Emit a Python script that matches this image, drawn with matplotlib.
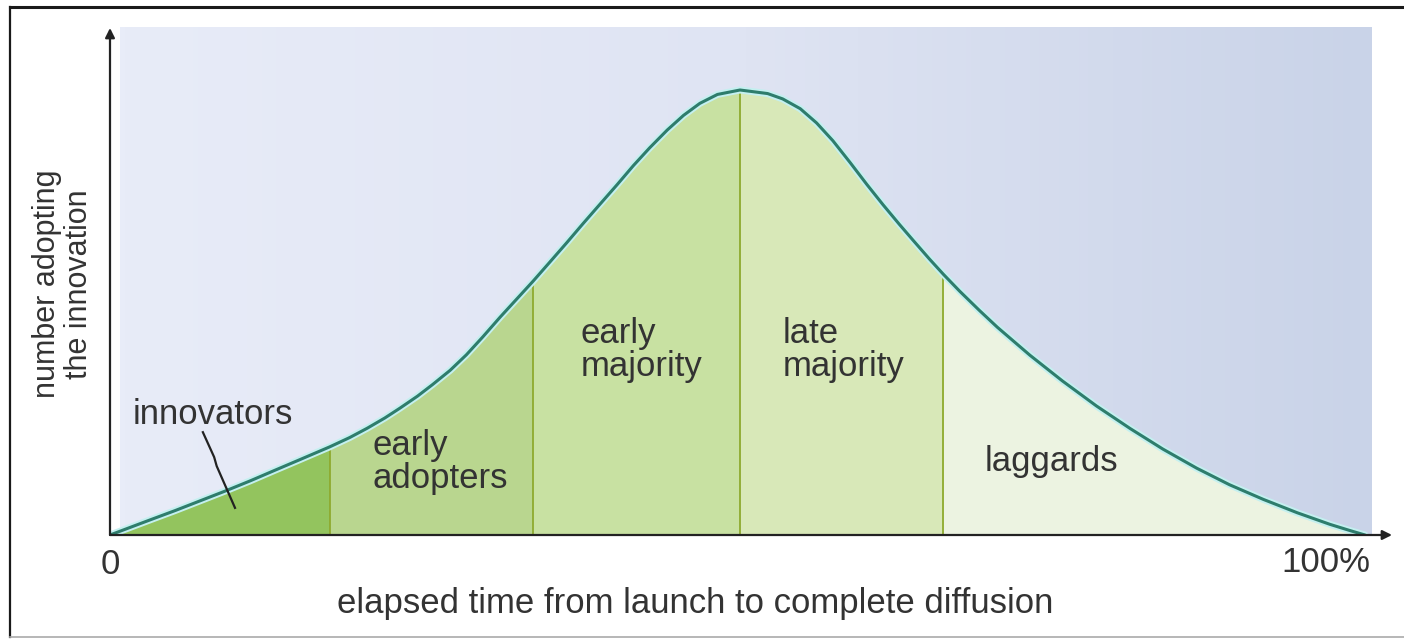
import numpy as np
import matplotlib.pyplot as plt
from matplotlib.colors import LinearSegmentedColormap
from matplotlib.lines import Line2D

# curve: x = % of elapsed time, y = % of peak
curve_x = [0.0, 1.6, 3.2, 5.2, 7.2, 9.2, 11.2, 13.1, 15.1, 17.5, 19.1, 20.5,
           21.9, 23.1, 24.5, 25.7, 27.1, 28.4, 29.7, 31.1, 32.4, 33.7, 35.1,
           36.4, 37.7, 39.0, 40.4, 41.7, 43.0, 44.4, 45.7, 47.0, 48.4, 50.2,
           52.4, 53.6, 55.0, 56.3, 57.6, 59.0, 60.3, 61.6, 62.9, 64.0, 65.3,
           66.4, 67.7, 69.3, 70.7, 73.3, 75.9, 78.6, 81.3, 83.9, 86.6, 89.2,
           91.9, 94.6, 97.2, 98.8, 100.0]
curve_y = [0.0, 1.7, 3.4, 5.5, 7.7, 9.9, 12.2, 14.5, 16.9, 19.8, 21.9, 24.0,
           26.3, 28.5, 31.2, 33.8, 37.0, 40.5, 44.5, 49.0, 53.0, 57.0, 61.5,
           65.7, 70.0, 74.2, 78.7, 83.0, 87.0, 91.0, 94.3, 97.0, 99.0, 100.0,
           99.2, 98.0, 95.8, 92.6, 88.6, 83.6, 78.8, 74.2, 69.8, 66.2, 62.0,
           58.6, 54.8, 50.4, 46.7, 40.4, 34.6, 29.0, 23.9, 19.3, 15.0, 11.3,
           8.0, 5.0, 2.4, 1.0, 0.0]

bounds = [0, 17.5, 33.7, 50.2, 66.4, 100]
groups = ["innovators", "early\nadopters", "early\nmajority", "late\nmajority", "laggards"]
group_colors = ["#93c45e", "#b9d68f", "#c8e1a2", "#d8e8b8", "#ecf3e1"]

plt.rcParams['font.family'] = ['Liberation Sans', 'DejaVu Sans']

W, H = 1404, 640
fig = plt.figure(figsize=(W/100, H/100), dpi=100)

# axes: origin at px (110,535); 1% in x = 12.55 px, 1% in y = 4.45 px
x0, y0, sx, sy = 110, 535, 12.55, 4.45
xr, yt = 1392, 27
ax = fig.add_axes([x0/W, (H-y0)/H, (xr-x0)/W, (y0-yt)/H])
ax.set_xlim(0, (xr-x0)/sx)
ax.set_ylim(0, (y0-yt)/sy)
ax.axis('off')

# background gradient
cmap = LinearSegmentedColormap.from_list('bg', ["#e8ecf8", "#dfe4f3", "#c9d3e8"])
grad = np.linspace(0, 1, 256).reshape(1, -1)
ax.imshow(grad, cmap=cmap, aspect='auto', extent=(0.8, (1372-x0)/sx, 0, (y0-yt)/sy),
          zorder=0)

cx = np.array(curve_x)
cy = np.array(curve_y)
for i in range(len(groups)):
    a, b = bounds[i], bounds[i+1]
    m = (cx >= a - 0.01) & (cx <= b + 0.01)
    ax.fill_between(cx[m], 0, cy[m], color=group_colors[i], lw=0, zorder=1)
for b in bounds[1:-1]:
    yb = np.interp(b, cx, cy)
    ax.plot([b, b], [0, yb], color="#8eaa2e", lw=1.3, zorder=2)

ax.plot(cx, cy, color="#c4f0f0", lw=5, zorder=3, solid_capstyle='round',
        solid_joinstyle='round')
ax.plot(cx, cy, color="#2e7d6c", lw=2.2, zorder=4, solid_capstyle='round',
        solid_joinstyle='round')

# axes arrows
ax.annotate('', xy=(0, (y0-28)/sy), xytext=(0, 0),
            arrowprops=dict(arrowstyle='-|>', color='#222222', lw=1.6,
                            mutation_scale=14, shrinkA=0, shrinkB=0), zorder=5)
ax.annotate('', xy=((xr-x0)/sx, 0), xytext=(0, 0),
            arrowprops=dict(arrowstyle='-|>', color='#222222', lw=1.6,
                            mutation_scale=14, shrinkA=0, shrinkB=0), zorder=5)

fs = 25
txt = dict(color='#333333', fontsize=fs, zorder=6, linespacing=1.0)
ax.text(1.8, 27, groups[0], ha='left', va='center', **txt)
ax.plot([7.4, 8.3, 8.5, 9.96], [23.1, 17.5, 15.5, 6.1],
        color='#222222', lw=1.6, zorder=6)
ax.text(20.9, 16.5, groups[1], ha='left', va='center', **txt)
ax.text(37.5, 41.5, groups[2], ha='left', va='center', **txt)
ax.text(53.6, 41.5, groups[3], ha='left', va='center', **txt)
ax.text(69.7, 16.5, groups[4], ha='left', va='center', **txt)

# axis texts in figure pixels
def fpx(x, y):
    return x / W, 1 - y / H

fig.text(*fpx(110, 564), "0", ha='center', va='center', color='#333333', fontsize=fs)
fig.text(*fpx(1370, 562), "100%", ha='right', va='center', color='#333333', fontsize=fs)
fig.text(*fpx(695, 604), "elapsed time from launch to complete diffusion",
         ha='center', va='center', color='#333333', fontsize=fs)
fig.text(*fpx(63, 284), "number adopting\nthe innovation", ha='center', va='center',
         rotation=90, color='#333333', fontsize=22, linespacing=1.05)

# outer frame
fig.add_artist(Line2D([10/W, 1], [1-7/H, 1-7/H], color='#1a1a1a', lw=2.2))
fig.add_artist(Line2D([10/W, 10/W], [1-7/H, 1-637/H], color='#1a1a1a', lw=1.6))
fig.add_artist(Line2D([10/W, 1], [1-637/H, 1-637/H], color='#aaaaaa', lw=1.2))

fig.savefig("out.png", dpi=100)
